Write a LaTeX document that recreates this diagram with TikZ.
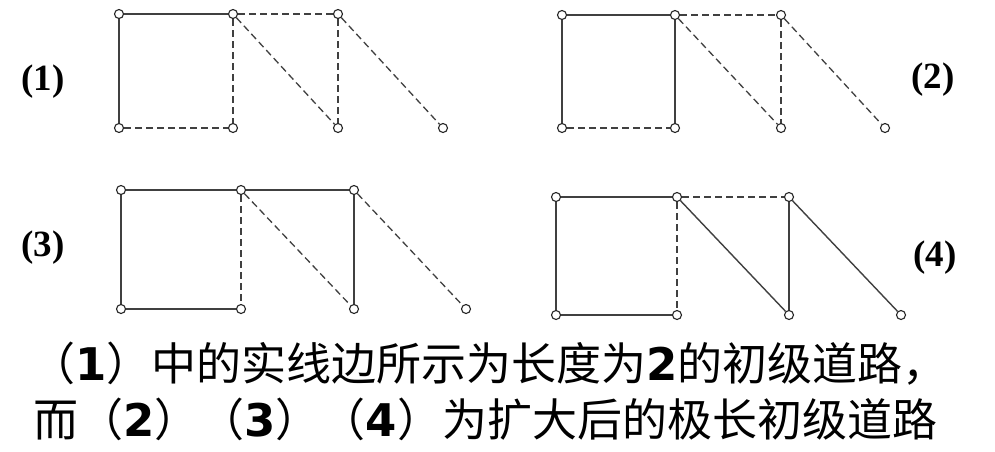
\documentclass[tikz,border=0pt]{standalone}
\usepackage{fontspec}
\setmainfont{Liberation Serif}
\newfontfamily\cjk{Noto Sans CJK SC}
\newfontfamily\digf{DejaVu Sans}
\newcommand\dg[1]{{\digf\bfseries #1}}
\newcommand\mkpanel[8]{%
  \node[vtx] (#1a) at (#2,#6) {};
  \node[vtx] (#1b) at (#3,#6) {};
  \node[vtx] (#1c) at (#4,#6) {};
  \node[vtx] (#1d) at (#2,#7) {};
  \node[vtx] (#1e) at (#3,#7) {};
  \node[vtx] (#1f) at (#4,#7) {};
  \node[vtx] (#1g) at (#5,#7) {};
}
\begin{document}
\begin{tikzpicture}[x=1pt,y=-1pt,
  vtx/.style={circle,draw=black!85,fill=white,inner sep=0pt,minimum size=9pt,line width=1.1pt},
  sol/.style={draw=black!75,line width=1.4pt},
  dsh/.style={draw=black!75,line width=1.3pt,dash pattern=on 7pt off 4pt},
  lab/.style={font=\fontsize{37}{42}\selectfont\bfseries},
  txt/.style={font=\cjk\fontsize{45}{50}\selectfont,inner sep=0pt}]
\useasboundingbox[fill=white] (0,0) rectangle (995,451);
% panel 1
\mkpanel{p}{119}{233}{338}{443}{14}{128}{}
\draw[sol] (pa) -- (pb);
\draw[sol] (pa) -- (pd);
\draw[dsh] (pb) -- (pc);
\draw[dsh] (pb) -- (pe);
\draw[dsh] (pd) -- (pe);
\draw[dsh] (pb) -- (pf);
\draw[dsh] (pc) -- (pf);
\draw[dsh] (pc) -- (pg);
% panel 2
\mkpanel{q}{562}{675}{781}{885}{15}{128}{}
\draw[sol] (qa) -- (qb);
\draw[sol] (qa) -- (qd);
\draw[sol] (qb) -- (qe);
\draw[dsh] (qd) -- (qe);
\draw[dsh] (qb) -- (qc);
\draw[dsh] (qb) -- (qf);
\draw[dsh] (qc) -- (qf);
\draw[dsh] (qc) -- (qg);
% panel 3
\mkpanel{r}{121}{241}{354}{466}{190}{309}{}
\draw[sol] (ra) -- (rb);
\draw[sol] (rb) -- (rc);
\draw[sol] (ra) -- (rd);
\draw[sol] (rd) -- (re);
\draw[sol] (rc) -- (rf);
\draw[dsh] (rb) -- (re);
\draw[dsh] (rb) -- (rf);
\draw[dsh] (rc) -- (rg);
% panel 4
\mkpanel{s}{556}{677}{789}{901}{197}{315}{}
\draw[sol] (sa) -- (sb);
\draw[sol] (sa) -- (sd);
\draw[sol] (sd) -- (se);
\draw[sol] (sb) -- (sf);
\draw[sol] (sc) -- (sf);
\draw[sol] (sc) -- (sg);
\draw[dsh] (sb) -- (sc);
\draw[dsh] (sb) -- (se);
% labels
\node[lab] (l1) at (43,82) {(1)};
\node[lab] (l2) at (933,80) {(2)};
\node[lab] (l3) at (43,248) {(3)};
\node[lab] (l4) at (935,258) {(4)};
% caption
\node[txt,anchor=west] (c1) at (30,364) {（\dg{1}）中的实线边所示为长度为\dg{2}的初级道路，};
\node[txt,anchor=west] (c2) at (33,419) {而（\dg{2}）（\dg{3}）（\dg{4}）为扩大后的极长初级道路};
\end{tikzpicture}
\end{document}
